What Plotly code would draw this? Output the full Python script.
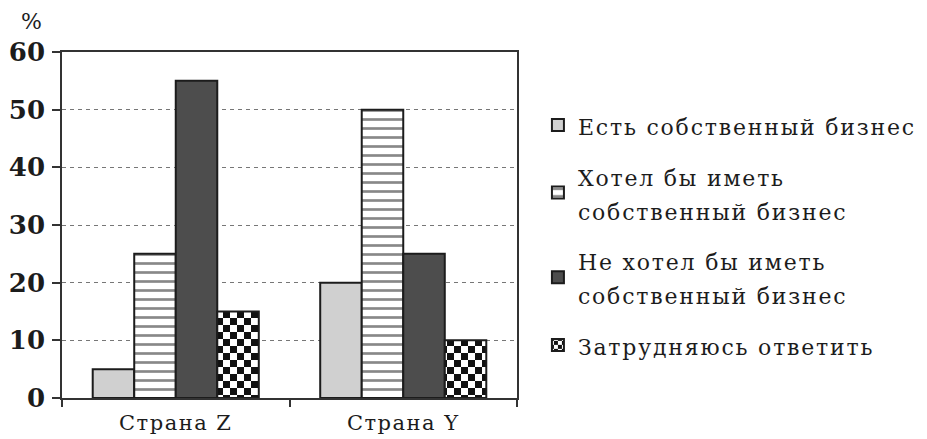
import plotly.graph_objects as go

categories = ["Страна Z", "Страна Y"]
series_names = [
    ["Есть собственный бизнес"],
    ["Хотел бы иметь", "собственный бизнес"],
    ["Не хотел бы иметь", "собственный бизнес"],
    ["Затрудняюсь ответить"],
]
own_business = [5, 20]
want_business = [25, 50]
not_want_business = [55, 25]
hard_to_say = [15, 10]
y_ticks = [0, 10, 20, 30, 40, 50, 60]

FONT = "DejaVu Serif"
INK = "#1c1c1c"


def spaced(lines, ls, fs=None):
    size = f"font-size:{fs}px;" if fs else ""
    return "<br>".join(f"<span style='{size}letter-spacing:{ls}px'>{t}</span>" for t in lines)


legend_names = [spaced(n, 1.8, 22) for n in series_names]
cat_labels = [spaced([c], 1.5) for c in categories]

fig = go.Figure()
fig.add_trace(go.Bar(
    name=legend_names[0], x=categories, y=own_business, legendgroup="a",
    marker=dict(color="#d0d0d0", line=dict(color=INK, width=2)),
))
fig.add_trace(go.Bar(
    name=legend_names[1], x=categories, y=want_business, legendgroup="b",
    marker=dict(color="white", line=dict(color=INK, width=2),
                pattern=dict(shape="-", fgcolor="#111", bgcolor="white", size=9, solidity=0.3)),
))
fig.add_trace(go.Bar(
    name=legend_names[2], x=categories, y=not_want_business, legendgroup="c",
    marker=dict(color="#4d4d4d", line=dict(color=INK, width=2)),
))
fig.add_trace(go.Bar(
    name=legend_names[3], x=categories, y=hard_to_say, legendgroup="d",
    marker=dict(color="white", line=dict(color=INK, width=2),
                pattern=dict(shape=".", fgcolor="#000001", bgcolor="white", size=14, solidity=0.5)),
))

fig.update_layout(
    width=927, height=439,
    paper_bgcolor="white", plot_bgcolor="white",
    margin=dict(l=62, r=410, t=52, b=41, autoexpand=False),
    barmode="group", bargap=0.27, bargroupgap=0,
    font=dict(family=FONT, color=INK, size=22),
    showlegend=True,
    legend=dict(
        x=1.046, xanchor="left", y=0.857, yanchor="top",
        font=dict(family=FONT, size=26, color=INK),
        traceorder="grouped", tracegroupgap=14, itemwidth=30,
        bgcolor="rgba(0,0,0,0)",
    ),
)
fig.update_yaxes(
    range=[0, 60], tickvals=y_ticks, ticktext=[str(v) for v in y_ticks],
    ticks="outside", ticklen=8, tickcolor="#333", tickwidth=1.5,
    ticklabelstandoff=2,
    showline=True, linecolor="#333", linewidth=1.5, mirror=True,
    showgrid=True, gridcolor="#777", gridwidth=1, griddash="4px,4px",
    zeroline=False, automargin=False,
    tickfont=dict(family=FONT, size=26, color=INK, weight="bold"),
)
fig.update_xaxes(
    tickvals=categories, ticktext=cat_labels,
    ticks="outside", tickson="boundaries", ticklen=7, tickcolor="#333", tickwidth=1.5,
    ticklabelstandoff=5,
    showline=True, linecolor="#333", linewidth=1.5, mirror=True,
    showgrid=False, automargin=False,
    tickfont=dict(family=FONT, size=21, color=INK),
)
fig.add_annotation(
    text="%", xref="paper", yref="paper", x=-0.068, y=1.087,
    xanchor="center", yanchor="middle", showarrow=False,
    font=dict(family=FONT, size=22, color=INK),
)

post = """
document.body.style.margin = '0';
var gd = document.getElementById('{plot_id}');
function fixChecker(){
  document.querySelectorAll('pattern').forEach(function(p){
    var el = p.querySelector('path, circle');
    if(!el) return;
    var f = ((el.style && el.style.fill) || el.getAttribute('fill') || '').replace(/\\s/g,'');
    if(f === 'rgb(0,0,1)' || f === '#000001'){
      var s = parseFloat(p.getAttribute('width'));
      var h = s/2;
      var np = document.createElementNS('http://www.w3.org/2000/svg','path');
      np.setAttribute('d','M0,0H'+h+'V'+h+'H0Z M'+h+','+h+'H'+s+'V'+s+'H'+h+'Z');
      np.setAttribute('fill','#111');
      el.parentNode.replaceChild(np, el);
    }
  });
}
fixChecker();
if(gd && gd.on){ gd.on('plotly_afterplot', fixChecker); }
"""

fig.write_html("out.html", post_script=post, config={"displayModeBar": False})
